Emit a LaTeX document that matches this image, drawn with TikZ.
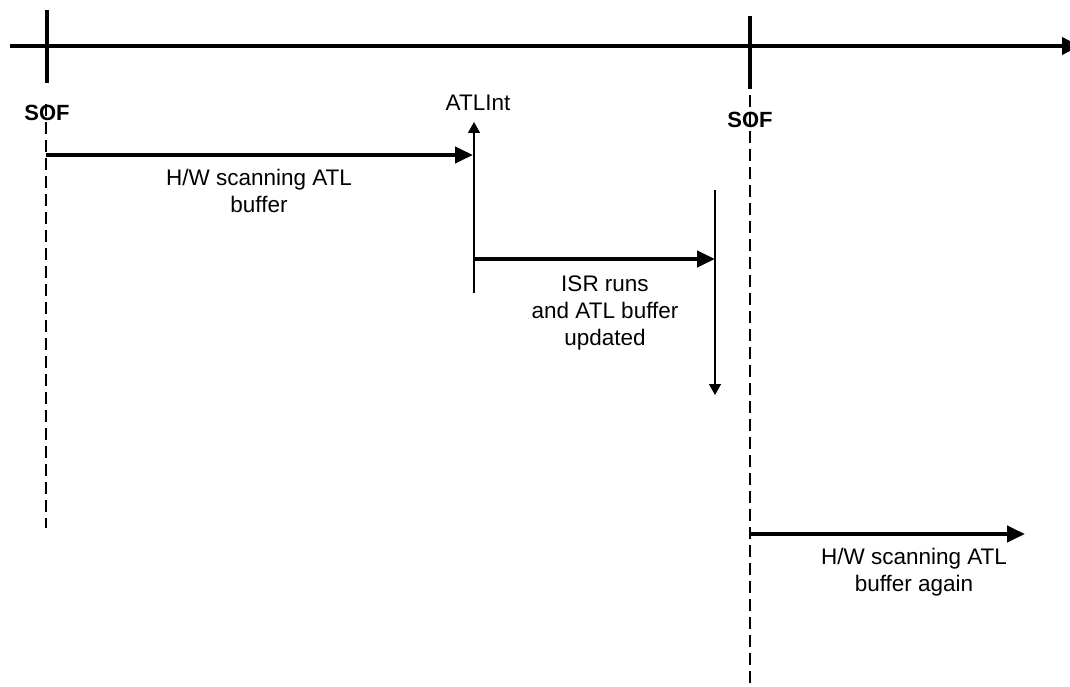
\documentclass[tikz,border=0pt]{standalone}
\usepackage{fontspec}
\setmainfont{Liberation Sans}
\usetikzlibrary{arrows.meta}
\begin{document}
\begin{tikzpicture}[x=1pt,y=-1pt,
  lbl/.style={font=\fontsize{22.5}{27}\selectfont, align=center, inner sep=0pt, anchor=north},
  sof/.style={font=\fontsize{22}{26}\selectfont\bfseries, inner sep=0pt, anchor=north},
  axis/.style={line width=3.5pt, -{Triangle[length=18pt,width=17pt]}},
  tickmark/.style={line width=4pt},
  guide/.style={line width=1.2pt, dash pattern=on 12pt off 6pt},
  span/.style={line width=4pt, -{Triangle[length=18pt,width=16pt]}},
  flag/.style={line width=1.3pt, -{Triangle[length=11pt,width=12pt]}}]
\useasboundingbox (0,0) rectangle (1070,687);
% coordinates
\coordinate (tl0) at (10,46);
\coordinate (tlE) at (1080,46);
\coordinate (t1a) at (47,10);
\coordinate (t1b) at (47,83);
\coordinate (t2a) at (750,16);
\coordinate (t2b) at (750,89);
\coordinate (g1a) at (46,104);
\coordinate (g1b) at (46,528);
\coordinate (g2a) at (750,95);
\coordinate (g2b) at (750,690);
\coordinate (a1s) at (46,155);
\coordinate (a1e) at (473,155);
\coordinate (upS) at (474,293);
\coordinate (upE) at (474,122);
\coordinate (a2s) at (474,259);
\coordinate (a2e) at (715,259);
\coordinate (dnS) at (715,190);
\coordinate (dnE) at (715,395);
\coordinate (a3s) at (750,534);
\coordinate (a3e) at (1025,534);
% labels
\node[sof] (sof1) at (47,105) {SOF};
\node[sof] (sof2) at (750,112) {SOF};
\node[lbl] (atlint) at (478,95) {ATLInt};
\node[lbl] (scan1) at (259,169) {H/W scanning ATL\\buffer};
\node[lbl] (isr) at (605,276) {ISR runs\\and ATL buffer\\updated};
\node[lbl] (scan2) at (914,548) {H/W scanning ATL\\buffer again};
% timeline
\draw[axis] (tl0) -- (tlE);
\draw[tickmark] (t1a) -- (t1b);
\draw[tickmark] (t2a) -- (t2b);
% guides
\draw[guide] (g1a) -- (g1b);
\draw[guide] (g2a) -- (g2b);
% arrows
\draw[span] (a1s) -- (a1e);
\draw[flag] (upS) -- (upE);
\draw[span] (a2s) -- (a2e);
\draw[flag] (dnS) -- (dnE);
\draw[span] (a3s) -- (a3e);
\end{tikzpicture}
\end{document}
